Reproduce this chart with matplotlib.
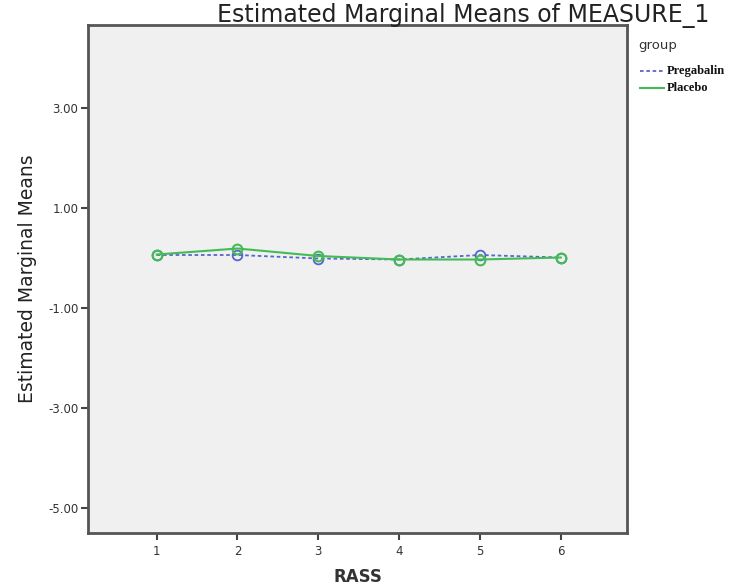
import matplotlib
matplotlib.use("Agg")
import matplotlib.pyplot as plt
from matplotlib.lines import Line2D

rass = [1, 2, 3, 4, 5, 6]
pregabalin = [0.06, 0.06, -0.01, -0.03, 0.06, 0.01]
placebo = [0.07, 0.19, 0.04, -0.03, -0.03, 0.01]
yticks = [3.0, 1.0, -1.0, -3.0, -5.0]

blue = "#5566cc"
green = "#44bb55"

fig = plt.figure(figsize=(7.54, 5.88), dpi=100)
ax = fig.add_axes([88/754, 55/588, (627-88)/754, (533-25)/588])
ax.set_facecolor("#f0f0f0")

ax.plot(rass, pregabalin, linestyle=(0, (2, 1.5)), color=blue, lw=1.3,
        marker="o", markersize=7, markerfacecolor="none", markeredgecolor=blue, markeredgewidth=1.3)
ax.plot(rass, placebo, linestyle="-", color=green, lw=1.5,
        marker="o", markersize=7, markerfacecolor="none", markeredgecolor=green, markeredgewidth=1.5)

ax.set_xlim(0.15, 6.82)
ax.set_ylim(-5.5, 4.66)
ax.set_xticks(rass)
ax.set_xticklabels([str(r) for r in rass])
ax.set_yticks(yticks)
ax.set_yticklabels([f"{v:.2f}" for v in yticks])
ax.tick_params(axis="both", direction="out", length=5, width=1.5, colors="#444444",
               labelsize=8.5, labelcolor="#333333")
ax.tick_params(axis="y", pad=2)
for s in ax.spines.values():
    s.set_color("#555555")
    s.set_linewidth(2)

ax.set_ylabel("Estimated Marginal Means", fontsize=13.5, color="#222222", labelpad=8)
fig.text(358/754, 1 - 577/588, "RASS", fontsize=12, fontweight="bold", color="#333333",
         ha="center", va="center")
fig.text(463/754, 1 - 16/588, "Estimated Marginal Means of MEASURE_1", fontsize=17,
         ha="center", va="center", color="#222222")

# legend
fig.text(638/754, 1 - 46/588, "group", fontsize=9.5, color="#333333", ha="left", va="center")
fig.add_artist(Line2D([640/754, 664/754], [1 - 71/588, 1 - 71/588], color=blue, lw=1.3,
                      linestyle=(0, (2, 1.5)), transform=fig.transFigure))
fig.add_artist(Line2D([640/754, 664/754], [1 - 88/588, 1 - 88/588], color=green, lw=1.5,
                      transform=fig.transFigure))
fig.text(667/754, 1 - 71/588, "Pregabalin", fontsize=9, fontweight="bold", family="Liberation Serif",
         color="#111111", ha="left", va="center")
fig.text(667/754, 1 - 88/588, "Placebo", fontsize=9, fontweight="bold", family="Liberation Serif",
         color="#111111", ha="left", va="center")

fig.savefig("out.png", dpi=100, facecolor="white")
